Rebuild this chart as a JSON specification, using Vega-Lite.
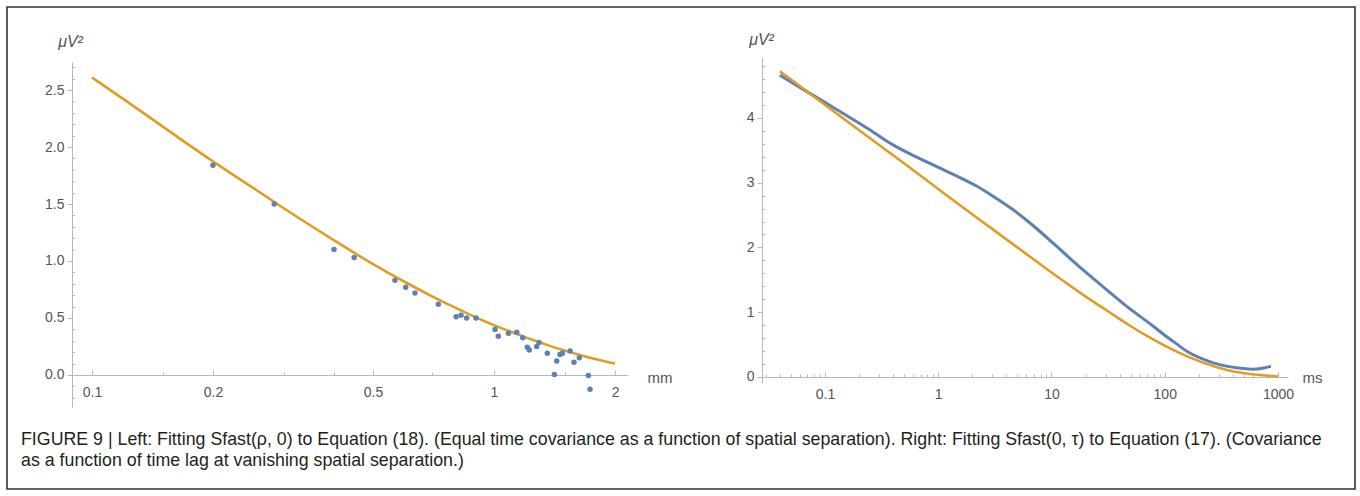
{
  "$schema": "https://vega.github.io/schema/vega-lite/v6.json",
  "width": 1348,
  "height": 482,
  "autosize": "none",
  "padding": {"left": 7, "top": 7, "right": 5, "bottom": 7},
  "background": "white",
  "config": {
    "view": {"stroke": "#333333", "strokeWidth": 1.6},
    "axis": {
      "grid": false,
      "labelFont": "Liberation Sans",
      "labelFontSize": 14,
      "labelColor": "#555555",
      "domainColor": "#b8b8b8",
      "tickColor": "#b8b8b8",
      "labelFlush": false,
      "labelOverlap": false,
      "labelBound": false,
      "titleFont": "Liberation Sans",
      "titleFontWeight": "normal",
      "titleColor": "#555555",
      "titleFontSize": 15,
      "titleAngle": 0
    }
  },
  "title": {
    "text": [
      "FIGURE 9 | Left: Fitting Sfast(ρ, 0) to Equation (18). (Equal time covariance as a function of spatial separation). Right: Fitting Sfast(0, τ) to Equation (17). (Covariance",
      "as a function of time lag at vanishing spatial separation.)"
    ],
    "orient": "bottom",
    "anchor": "start",
    "frame": "group",
    "offset": 0,
    "dy": -58,
    "dx": 14,
    "baseline": "top",
    "font": "Liberation Sans",
    "fontSize": 17.8,
    "fontWeight": "normal",
    "color": "#231F20",
    "lineHeight": 21
  },
  "datasets": {
    "leftFit": [
      {"rho": 0.1, "S": 2.61}, {"rho": 0.12, "S": 2.42}, {"rho": 0.15, "S": 2.18},
      {"rho": 0.2, "S": 1.87}, {"rho": 0.25, "S": 1.65}, {"rho": 0.3, "S": 1.46},
      {"rho": 0.4, "S": 1.18}, {"rho": 0.5, "S": 0.97}, {"rho": 0.6, "S": 0.815},
      {"rho": 0.7, "S": 0.69}, {"rho": 0.8, "S": 0.59}, {"rho": 0.9, "S": 0.505},
      {"rho": 1.0, "S": 0.435}, {"rho": 1.2, "S": 0.328}, {"rho": 1.4, "S": 0.245},
      {"rho": 1.6, "S": 0.185}, {"rho": 1.8, "S": 0.135}, {"rho": 2.0, "S": 0.1}
    ],
    "leftData": [
      {"rho": 0.2, "S": 1.84}, {"rho": 0.284, "S": 1.5}, {"rho": 0.4, "S": 1.1},
      {"rho": 0.449, "S": 1.03}, {"rho": 0.567, "S": 0.83}, {"rho": 0.603, "S": 0.77},
      {"rho": 0.636, "S": 0.72}, {"rho": 0.727, "S": 0.62}, {"rho": 0.805, "S": 0.51},
      {"rho": 0.828, "S": 0.525}, {"rho": 0.855, "S": 0.5}, {"rho": 0.902, "S": 0.5},
      {"rho": 1.006, "S": 0.4}, {"rho": 1.025, "S": 0.34}, {"rho": 1.086, "S": 0.365},
      {"rho": 1.139, "S": 0.375}, {"rho": 1.179, "S": 0.327}, {"rho": 1.21, "S": 0.243},
      {"rho": 1.224, "S": 0.219}, {"rho": 1.277, "S": 0.249}, {"rho": 1.294, "S": 0.284},
      {"rho": 1.357, "S": 0.19}, {"rho": 1.413, "S": 0.005}, {"rho": 1.432, "S": 0.123},
      {"rho": 1.459, "S": 0.18}, {"rho": 1.479, "S": 0.19}, {"rho": 1.546, "S": 0.21},
      {"rho": 1.581, "S": 0.111}, {"rho": 1.63, "S": 0.152}, {"rho": 1.717, "S": -0.005},
      {"rho": 1.733, "S": -0.125}
    ],
    "rightFit": [
      {"tau": 0.04, "S": 4.72}, {"tau": 0.06, "S": 4.49}, {"tau": 0.1, "S": 4.2},
      {"tau": 0.2, "S": 3.81}, {"tau": 0.5, "S": 3.3}, {"tau": 1, "S": 2.9},
      {"tau": 2, "S": 2.51}, {"tau": 5, "S": 2.0}, {"tau": 10, "S": 1.61},
      {"tau": 20, "S": 1.24}, {"tau": 30, "S": 1.04}, {"tau": 50, "S": 0.78},
      {"tau": 70, "S": 0.63}, {"tau": 100, "S": 0.48}, {"tau": 150, "S": 0.33},
      {"tau": 200, "S": 0.245}, {"tau": 300, "S": 0.135}, {"tau": 400, "S": 0.085},
      {"tau": 500, "S": 0.058}, {"tau": 700, "S": 0.03}, {"tau": 1000, "S": 0.008}
    ],
    "rightData": [
      {"tau": 0.04, "S": 4.66}, {"tau": 0.06, "S": 4.47}, {"tau": 0.1, "S": 4.24},
      {"tau": 0.15, "S": 4.05}, {"tau": 0.25, "S": 3.82}, {"tau": 0.4, "S": 3.57},
      {"tau": 0.6, "S": 3.42}, {"tau": 1, "S": 3.24}, {"tau": 1.5, "S": 3.09},
      {"tau": 2.2, "S": 2.95}, {"tau": 3, "S": 2.8}, {"tau": 4.5, "S": 2.6},
      {"tau": 7, "S": 2.33}, {"tau": 10, "S": 2.09}, {"tau": 15, "S": 1.81},
      {"tau": 20, "S": 1.62}, {"tau": 30, "S": 1.36}, {"tau": 45, "S": 1.1},
      {"tau": 60, "S": 0.94}, {"tau": 80, "S": 0.78}, {"tau": 100, "S": 0.64},
      {"tau": 130, "S": 0.5}, {"tau": 160, "S": 0.38}, {"tau": 200, "S": 0.3},
      {"tau": 270, "S": 0.21}, {"tau": 350, "S": 0.165}, {"tau": 450, "S": 0.135},
      {"tau": 550, "S": 0.12}, {"tau": 650, "S": 0.12}, {"tau": 750, "S": 0.135},
      {"tau": 866, "S": 0.165}
    ]
  },
  "layer": [
    {
      "layer": [
        {
          "data": {"name": "leftFit"},
          "mark": {"type": "line", "color": "#E19C24", "strokeWidth": 2.6, "interpolate": "basis"},
          "encoding": {
            "x": {
              "field": "rho", "type": "quantitative",
              "scale": {"type": "log", "domain": [0.0887, 2.154], "range": [64, 621], "nice": false},
              "axis": {
                "orient": "bottom", "offset": -114,
                "values": [0.1, 0.2, 0.5, 1, 2], "format": "~g",
                "tickSize": -5, "labelPadding": 15,
                "title": "mm", "titleX": 640, "titleY": 2, "titleAlign": "left", "titleBaseline": "middle"
              }
            },
            "y": {
              "field": "S", "type": "quantitative",
              "scale": {"domain": [-0.281, 2.746], "range": [400, 55], "nice": false, "zero": false},
              "axis": {
                "orient": "left", "offset": -65,
                "values": [0, 0.5, 1, 1.5, 2, 2.5], "format": ".1f",
                "tickSize": 5, "labelPadding": 3,
                "title": "μV²", "titleX": -2, "titleY": 39, "titleAlign": "center", "titleBaseline": "alphabetic",
                "titleFontStyle": "italic", "titleFontSize": 16
              }
            }
          }
        },
        {
          "data": {"name": "leftData"},
          "mark": {"type": "circle", "color": "#5E81B5", "size": 30, "opacity": 1},
          "encoding": {
            "x": {
              "field": "rho", "type": "quantitative",
              "axis": {"orient": "bottom", "offset": -114, "values": [0.15, 0.3, 0.4, 0.7, 1.5],
                       "labels": false, "domain": false, "tickSize": -3, "title": null}
            },
            "y": {
              "field": "S", "type": "quantitative",
              "axis": {"orient": "left", "offset": -65,
                       "values": [-0.2, -0.1, 0.1, 0.2, 0.3, 0.4, 0.6, 0.7, 0.8, 0.9, 1.1, 1.2, 1.3, 1.4, 1.6, 1.7, 1.8, 1.9, 2.1, 2.2, 2.3, 2.4, 2.6, 2.7],
                       "labels": false, "domain": false, "tickSize": -2.5, "title": null}
            }
          }
        }
      ],
      "resolve": {"axis": {"x": "independent", "y": "independent"}}
    },
    {
      "layer": [
        {
          "data": {"name": "rightData"},
          "mark": {"type": "line", "color": "#5E81B5", "strokeWidth": 3, "interpolate": "basis"},
          "encoding": {
            "x": {
              "field": "tau", "type": "quantitative",
              "scale": {"type": "log", "domain": [0.0278, 1225], "range": [755, 1281], "nice": false},
              "axis": {
                "orient": "bottom", "offset": -112,
                "values": [0.1, 1, 10, 100, 1000], "format": "~g",
                "tickSize": -5, "labelPadding": 15,
                "title": "ms", "titleX": 1295, "titleY": 0, "titleAlign": "left", "titleBaseline": "middle"
              }
            },
            "y": {
              "field": "S", "type": "quantitative",
              "scale": {"domain": [-0.093, 4.94], "range": [376, 50], "nice": false, "zero": false},
              "axis": {
                "orient": "left", "offset": -755,
                "values": [0, 1, 2, 3, 4], "format": "d",
                "tickSize": 5, "labelPadding": 3,
                "title": "μV²", "titleX": -1, "titleY": 37, "titleAlign": "center", "titleBaseline": "alphabetic",
                "titleFontStyle": "italic", "titleFontSize": 16
              }
            }
          }
        },
        {
          "data": {"name": "rightFit"},
          "mark": {"type": "line", "color": "#E19C24", "strokeWidth": 2.6, "interpolate": "basis"},
          "encoding": {
            "x": {
              "field": "tau", "type": "quantitative",
              "axis": {"orient": "bottom", "offset": -112,
                       "values": [0.03, 0.04, 0.05, 0.06, 0.07, 0.08, 0.09, 0.2, 0.3, 0.4, 0.5, 0.6, 0.7, 0.8, 0.9, 2, 3, 4, 5, 6, 7, 8, 9, 20, 30, 40, 50, 60, 70, 80, 90, 200, 300, 400, 500, 600, 700, 800, 900],
                       "labels": false, "domain": false, "tickSize": -3, "title": null}
            },
            "y": {
              "field": "S", "type": "quantitative",
              "axis": {"orient": "left", "offset": -755,
                       "values": [0.2, 0.4, 0.6, 0.8, 1.2, 1.4, 1.6, 1.8, 2.2, 2.4, 2.6, 2.8, 3.2, 3.4, 3.6, 3.8, 4.2, 4.4, 4.6, 4.8],
                       "labels": false, "domain": false, "tickSize": -2.5, "title": null}
            }
          }
        }
      ],
      "resolve": {"axis": {"x": "independent", "y": "independent"}}
    }
  ],
  "resolve": {"scale": {"x": "independent", "y": "independent"}, "axis": {"x": "independent", "y": "independent"}}
}
